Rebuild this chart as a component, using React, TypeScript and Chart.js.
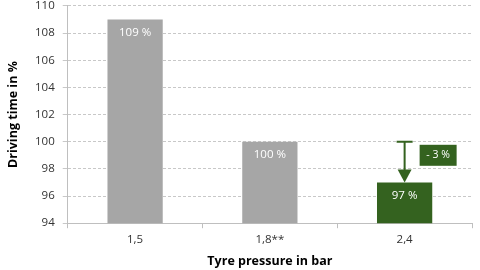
import React, { useEffect, useRef } from "react";
import { Chart, registerables } from "chart.js";

Chart.register(...registerables);

const categories = ["1,5", "1,8**", "2,4"];
const values = [109, 100, 97];
const barLabels = ["109 %", "100 %", "97 %"];
const barColors = ["#a6a6a6", "#a6a6a6", "#34621f"];
const referenceValue = 100;
const changeLabel = "- 3 %";
const changeLabelValue = 99;
const changeBarIndex = 2;
const yMin = 94;
const yMax = 110;
const yStep = 2;

const FONT = "'Open Sans', 'DejaVu Sans', sans-serif";
const GREEN = "#34621f";
const SHIFT = 9;

const annotationPlugin = {
  id: "barAnnotations",
  afterDatasetsDraw(chart: any) {
    const { ctx, scales } = chart;
    const meta = chart.getDatasetMeta(0);
    const yScale = scales.y;
    ctx.save();
    ctx.font = `11.5px ${FONT}`;
    ctx.fillStyle = "#ffffff";
    ctx.textAlign = "center";
    ctx.textBaseline = "middle";
    meta.data.forEach((bar: any, i: number) => {
      ctx.fillText(barLabels[i], bar.x, bar.y + 13);
    });

    const bar = meta.data[changeBarIndex];
    const x = bar.x;
    const y0 = yScale.getPixelForValue(referenceValue);
    const y1 = bar.y;
    ctx.strokeStyle = GREEN;
    ctx.fillStyle = GREEN;
    ctx.lineWidth = 2;
    ctx.beginPath();
    ctx.moveTo(x - 8, y0);
    ctx.lineTo(x + 8, y0);
    ctx.moveTo(x, y0);
    ctx.lineTo(x, y1 - 12);
    ctx.stroke();
    ctx.beginPath();
    ctx.moveTo(x - 7, y1 - 13);
    ctx.lineTo(x + 7, y1 - 13);
    ctx.lineTo(x, y1);
    ctx.closePath();
    ctx.fill();

    const ly = yScale.getPixelForValue(changeLabelValue);
    const bx = x + 15;
    const bw = 37;
    const bh = 21;
    ctx.fillRect(bx, ly - bh / 2, bw, bh);
    ctx.fillStyle = "#ffffff";
    ctx.font = `10.5px ${FONT}`;
    ctx.fillText(changeLabel, bx + bw / 2, ly);
    ctx.restore();
  },
};

export default function App() {
  const canvasRef = useRef<HTMLCanvasElement | null>(null);

  useEffect(() => {
    document.body.style.margin = "0";
    const canvas = canvasRef.current;
    if (!canvas) return;
    const chart = new Chart(canvas, {
      type: "bar",
      data: {
        labels: categories,
        datasets: [
          {
            data: values,
            backgroundColor: barColors,
            borderWidth: 0,
            categoryPercentage: 1,
            barPercentage: 0.41,
          },
        ],
      },
      options: {
        animation: false,
        responsive: false,
        maintainAspectRatio: false,
        layout: { padding: { top: 0, right: 8, left: 6, bottom: 1 } },
        plugins: {
          legend: { display: false },
          tooltip: { enabled: false },
        },
        scales: {
          x: {
            grid: {
              display: true,
              drawOnChartArea: false,
              drawTicks: true,
              tickLength: 5,
              color: "#bfbfbf",
              offset: true,
            },
            border: { display: true, color: "#bfbfbf", width: 1 },
            ticks: {
              color: "#333333",
              font: { family: FONT, size: 11.5 },
              padding: 5,
            },
            title: {
              display: true,
              text: "Tyre pressure in bar",
              color: "#000000",
              font: { family: FONT, size: 12.5, weight: "bold" },
              padding: { top: 2, bottom: 0 },
            },
          },
          y: {
            min: yMin,
            max: yMax,
            ticks: {
              stepSize: yStep,
              color: "#333333",
              font: { family: FONT, size: 11.5 },
              padding: 8,
            },
            grid: {
              color: "#c8c8c8",
              tickLength: 5,
              lineWidth: 1,
            },
            border: { display: true, color: "#bfbfbf", width: 1, dash: [3, 2] },
            title: {
              display: true,
              text: "Driving time in %",
              color: "#000000",
              font: { family: FONT, size: 12.5, weight: "bold" },
              padding: { top: 0, bottom: 6 },
            },
          },
        },
      },
      plugins: [annotationPlugin],
    });
    return () => chart.destroy();
  }, []);

  return (
    <div style={{ width: 480, height: 270, overflow: "hidden", position: "relative" }}>
      <canvas
        ref={canvasRef}
        width={480}
        height={270 + SHIFT}
        style={{ display: "block", position: "absolute", left: 0, top: -SHIFT }}
      />
    </div>
  );
}
